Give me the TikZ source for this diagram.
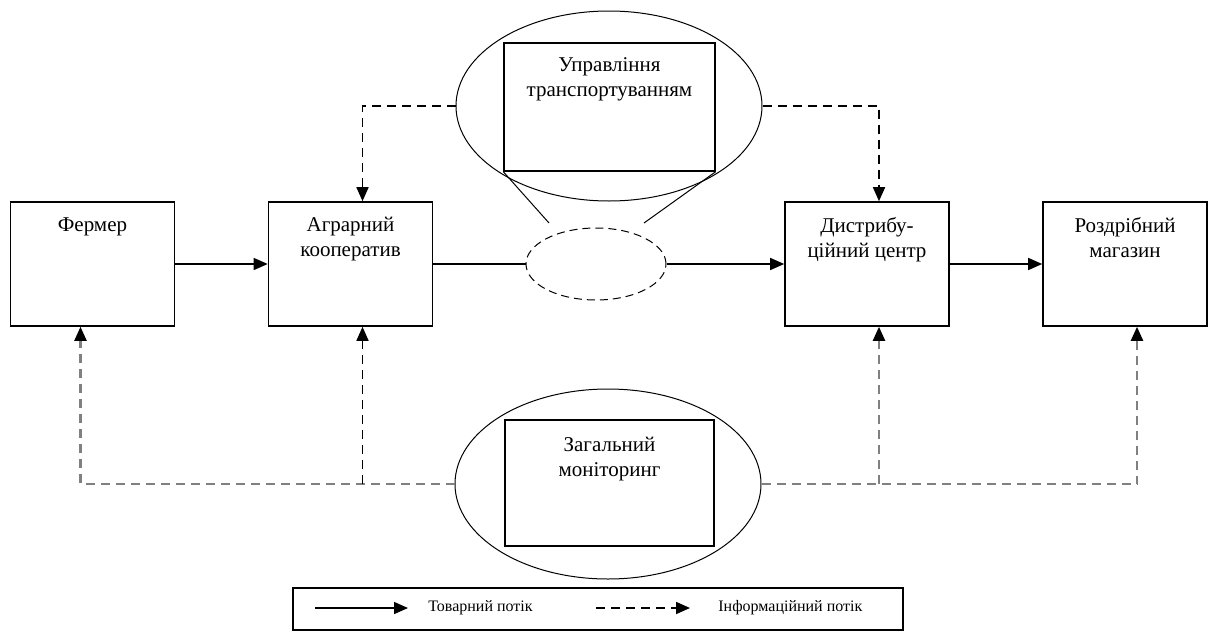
\documentclass[tikz,border=0pt]{standalone}
\usepackage{fontspec}
\setmainfont{Liberation Serif}
\usetikzlibrary{arrows.meta,shapes.geometric}
\definecolor{sirij}{HTML}{808080}
\tikzset{
  blok/.style={draw,line width=0.8pt,minimum width=82pt,minimum height=62pt,inner sep=0pt},
  napys/.style={align=center,inner sep=0pt,font=\fontsize{10.5}{12.5}\selectfont},
  legtxt/.style={inner sep=0pt,font=\fontsize{8}{9}\selectfont},
  ovl/.style={draw,ellipse,line width=0.5pt,minimum width=153pt,minimum height=95pt,inner sep=0pt},
  ramka/.style={draw,line width=0.7pt,inner sep=0pt},
  lupa/.style={draw,ellipse,line width=0.5pt,dash pattern=on 4pt off 2.5pt,minimum width=70pt,minimum height=36pt,inner sep=0pt},
  tovar/.style={-{Triangle[length=7pt,width=6pt]},line width=0.7pt},
  info/.style={-{Triangle[length=7pt,width=6pt,color=black]},line width=0.8pt,dash pattern=on 4.5pt off 3pt},
  infos/.style={info,sirij,line width=1.1pt},
}
\begin{document}
\begin{tikzpicture}[x=0.5pt,y=-0.5pt]
  \useasboundingbox (0,0) rectangle (1217,632);
  % blocks
  \node[blok,label={[napys,anchor=north,yshift=-8pt]north:{Фермер}}] (fermer) at (92.5,264) {};
  \node[blok,label={[napys,anchor=north,yshift=-8pt]north:{Аграрний\\кооператив}}] (koop) at (350.5,264) {};
  \node[blok,label={[napys,anchor=north,yshift=-8pt]north:{Дистрибу-\\ційний центр}}] (distr) at (867,264) {};
  \node[blok,label={[napys,anchor=north,yshift=-8pt]north:{Роздрібний\\магазин}}] (mahazyn) at (1125,264) {};
  % upravlinnia transportuvanniam
  \node[ovl] (upr) at (609,106) {};
  \node[ramka,minimum width=105.5pt,minimum height=64pt,
    label={[napys,anchor=north,yshift=-7.5pt]north:{Управління\\транспортуванням}}] (uprbox) at (609.5,107) {};
  \node[lupa] (transp) at (596,264) {};
  \coordinate (lupaL) at (549,223);
  \coordinate (lupaR) at (644,223);
  \draw[line width=0.5pt] (uprbox.south west) -- (lupaL);
  \draw[line width=0.5pt] (uprbox.south east) -- (lupaR);
  % monitorynh
  \node[ovl] (monit) at (608,484) {};
  \node[ramka,minimum width=104.5pt,minimum height=63pt,
    label={[napys,anchor=north,yshift=-8.5pt]north:{Загальний\\моніторинг}}] (monitbox) at (609.5,483) {};
  % tovarnyi potik
  \draw[tovar] (fermer.east) -- (koop.west);
  \draw[line width=0.7pt] (koop.east) -- (transp.west);
  \draw[tovar] (transp.east) -- (distr.west);
  \draw[tovar] (distr.east) -- (mahazyn.west);
  % informatsiinyi potik
  \draw[info] (upr.west) -| ([xshift=6pt]koop.north);
  \draw[info] (upr.east) -| ([xshift=6pt]distr.north);
  \draw[infos] (monit.west) -| ([xshift=-6pt]fermer.south);
  \draw[infos] (monit.east) -| ([xshift=6pt]mahazyn.south);
  \draw[info] ([xshift=6pt]koop.south |- monit.west) -- ([xshift=6pt]koop.south);
  \draw[infos] ([xshift=6pt]distr.south |- monit.west) -- ([xshift=6pt]distr.south);
  % legenda
  \node[ramka,minimum width=305pt,minimum height=21pt] (lehenda) at (598,609) {};
  \node[legtxt,anchor=west] (tovtxt) at (428,608) {Товарний потік};
  \node[legtxt,anchor=west] (inftxt) at (718,608) {Інформаційний потік};
  \coordinate (tovpoch) at (315,608);
  \coordinate (infpoch) at (596,608);
  \draw[tovar] (tovpoch) -- ([xshift=-10pt]tovtxt.west);
  \draw[info] (infpoch) -- ([xshift=-14pt]inftxt.west);
\end{tikzpicture}
\end{document}
